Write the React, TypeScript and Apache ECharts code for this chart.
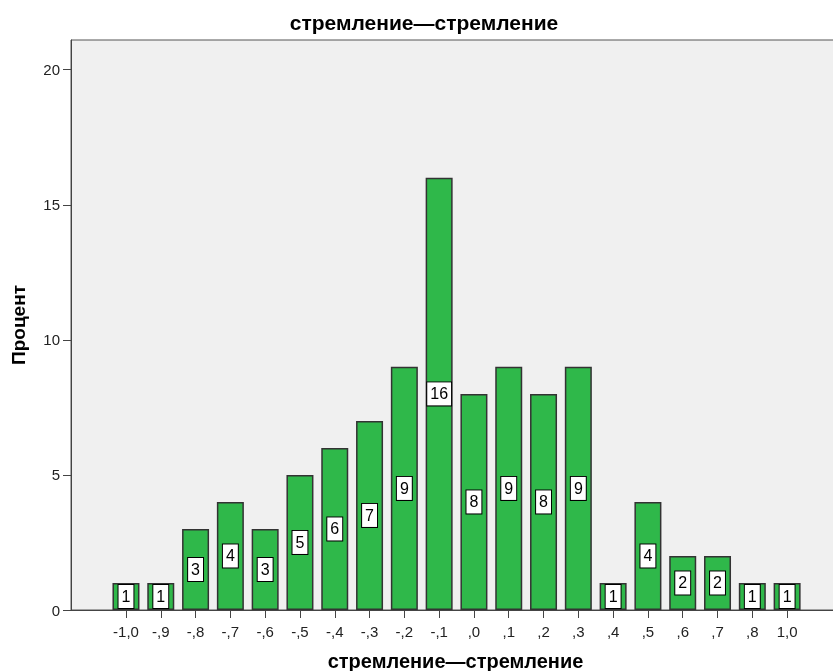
import React, { useEffect, useRef } from "react";
import * as echarts from "echarts";

const categories = ["-1,0", "-,9", "-,8", "-,7", "-,6", "-,5", "-,4", "-,3", "-,2", "-,1", ",0", ",1", ",2", ",3", ",4", ",5", ",6", ",7", ",8", "1,0"];
const percents = [1, 1, 3, 4, 3, 5, 6, 7, 9, 16, 8, 9, 8, 9, 1, 4, 2, 2, 1, 1];
const yTicks = [0, 5, 10, 15, 20];
const titleText = "стремление—стремление";
const xName = "стремление—стремление";
const yName = "Процент";

export default function App() {
  const ref = useRef<HTMLDivElement>(null);
  useEffect(() => {
    if (!ref.current) return;
    const chart = echarts.init(ref.current, undefined, { renderer: "svg" });
    const idx = categories.map((_, i) => i);
    chart.setOption({
      animation: false,
      title: {
        text: titleText,
        left: 419,
        top: 7,
        textAlign: "center",
        textStyle: { fontFamily: "Liberation Sans", fontSize: 21, fontWeight: "bold", color: "#000" },
      },
      grid: {
        left: 71,
        top: 40,
        right: 0,
        bottom: 61,
        outerBoundsMode: "none",
        containLabel: false,
        show: true,
        backgroundColor: "#f0f0f0",
        borderColor: "#555",
        borderWidth: 1,
      },
      xAxis: {
        type: "value",
        min: -1.58,
        max: 20.52,
        name: xName,
        nameLocation: "middle",
        nameGap: 41,
        nameTextStyle: { fontFamily: "Liberation Sans", fontSize: 20, fontWeight: "bold", color: "#000" },
        splitLine: { show: false },
        axisLine: { show: true, onZero: false, lineStyle: { color: "#444", width: 1 } },
        axisTick: { show: true, length: 8, customValues: idx, lineStyle: { color: "#444" } },
        axisLabel: {
          customValues: idx,
          formatter: (v: number) => categories[Math.round(v)] ?? "",
          margin: 14,
          fontFamily: "Liberation Sans",
          fontSize: 15,
          color: "#222",
        },
      },
      yAxis: {
        type: "value",
        min: 0,
        max: 21.1,
        name: yName,
        nameLocation: "middle",
        nameGap: 43,
        nameRotate: 90,
        nameTextStyle: { fontFamily: "Liberation Sans", fontSize: 19, fontWeight: "bold", color: "#000" },
        splitLine: { show: false },
        axisLine: { show: true, onZero: false, lineStyle: { color: "#444", width: 1 } },
        axisTick: { show: true, length: 8, customValues: yTicks, lineStyle: { color: "#444" } },
        axisLabel: {
          customValues: yTicks,
          margin: 11,
          fontFamily: "Liberation Sans",
          fontSize: 15,
          color: "#222",
        },
      },
      series: [
        {
          type: "bar",
          data: percents.map((v, i) => [i, v]),
          barWidth: 27,
          itemStyle: { color: "#2fb84a", borderColor: "#333", borderWidth: 1.5 },
          label: {
            show: true,
            position: "inside",
            formatter: (p: any) => String(p.value[1]),
            backgroundColor: "#fff",
            borderColor: "#000",
            borderWidth: 1,
            padding: [4, 3, 3, 3],
            color: "#000",
            fontFamily: "Liberation Sans",
            fontSize: 16,
          },
        },
      ],
    });
    return () => chart.dispose();
  }, []);
  return <div ref={ref} style={{ position: "fixed", left: 0, top: 0, width: 840, height: 671 }} />;
}
